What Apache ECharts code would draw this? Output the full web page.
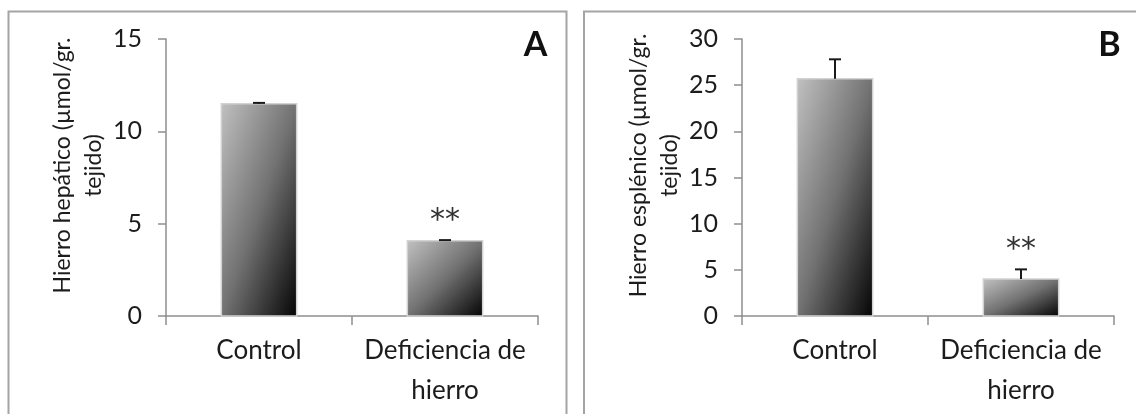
<!DOCTYPE html>
<html>
<head>
<meta charset="utf-8">
<script src="https://cdn.jsdelivr.net/npm/echarts@6/dist/echarts.min.js"></script>
<style>
  html, body { margin: 0; padding: 0; background: #ffffff; }
  #chart { width: 1136px; height: 414px; }
</style>
</head>
<body>
<div id="chart"></div>
<script>
// Iron content by group: liver (A) and spleen (B), mean ± error
const categories = ['Control', 'Deficiencia de\nhierro'];
const hepaticMeans = [11.5, 4.07];
const hepaticErrors = [0.04, 0.04];
const splenicMeans = [25.7, 4.0];
const splenicErrors = [2.1, 1.05];
const significance = ['', '**'];
const hepaticAxis = { min: 0, max: 15, interval: 5 };
const splenicAxis = { min: 0, max: 30, interval: 5 };
const hepaticTitle = 'Hierro hepático (µmol/gr.\ntejido)';
const splenicTitle = 'Hierro esplénico (µmol/gr.\ntejido)';
const panelLetters = ['A', 'B'];

const FONT = 'Lato, "Open Sans", sans-serif';
const TEXT = '#1c1c1c';
const AXIS = '#8e8e8e';
const BAR_WIDTH_RATIO = 0.405;

// Bar drawn with a corner-to-corner shade: light at top-left, black at bottom-right,
// mid-tone along the other diagonal (bounding-box style gradient).
function renderBar(params, api) {
  const cat = api.value(0);
  const val = api.value(1);
  const top = api.coord([cat, val]);
  const base = api.coord([cat, 0]);
  const band = api.size([1, 0])[0];
  const w = band * BAR_WIDTH_RATIO;
  const h = base[1] - top[1];
  const x = top[0] - w / 2;
  const y = top[1];
  const d = w * w + h * h;
  const x2 = x + (2 * w * h * h) / d;
  const y2 = y + (2 * w * w * h) / d;
  return {
    type: 'rect',
    shape: { x: x, y: y, width: w, height: h },
    style: {
      fill: new echarts.graphic.LinearGradient(x, y, x2, y2, [
        { offset: 0, color: '#c0c0c0' },
        { offset: 0.5, color: '#727272' },
        { offset: 1, color: '#050505' }
      ], true),
      stroke: '#d2d2d2',
      lineWidth: 1.5
    }
  };
}

// Upper error whisker with cap, plus significance mark above it
function renderError(params, api) {
  const cat = api.value(0);
  const mean = api.value(1);
  const err = api.value(2);
  const sig = significance[params.dataIndex];
  const p0 = api.coord([cat, mean]);
  const p1 = api.coord([cat, mean + err]);
  const cap = 6;
  const children = [
    { type: 'line', shape: { x1: p0[0], y1: p0[1], x2: p1[0], y2: p1[1] },
      style: { stroke: '#1a1a1a', lineWidth: 2 } },
    { type: 'line', shape: { x1: p1[0] - cap, y1: p1[1], x2: p1[0] + cap, y2: p1[1] },
      style: { stroke: '#1a1a1a', lineWidth: 2 } }
  ];
  if (sig) {
    children.push({
      type: 'text',
      style: {
        text: sig, x: p1[0], y: p1[1] - 4,
        align: 'center', verticalAlign: 'bottom',
        font: '30px "DejaVu Sans", sans-serif', fill: '#333333'
      }
    });
  }
  return { type: 'group', children: children };
}

function barData(means) {
  return means.map(function (v, i) { return [i, v]; });
}
function errData(means, errs) {
  return means.map(function (v, i) { return [i, v, errs[i]]; });
}

function xAxisFor(gridIndex) {
  return {
    type: 'category', gridIndex: gridIndex, data: categories,
    axisLine: { lineStyle: { color: AXIS, width: 1.5 } },
    axisTick: { show: true, length: 9, lineStyle: { color: AXIS, width: 1.5 } },
    axisLabel: {
      color: TEXT, fontFamily: FONT, fontSize: 26, lineHeight: 40,
      margin: 15, interval: 0
    }
  };
}
function yAxisFor(gridIndex, range, title) {
  return {
    type: 'value', gridIndex: gridIndex,
    min: range.min, max: range.max, interval: range.interval,
    splitLine: { show: false },
    axisLine: { show: true, lineStyle: { color: AXIS, width: 1.5 } },
    axisTick: { show: true, length: 8, lineStyle: { color: AXIS, width: 1.5 } },
    axisLabel: { color: TEXT, fontFamily: FONT, fontSize: 25, margin: 24 },
    name: title, nameLocation: 'middle', nameRotate: 90, nameGap: 57,
    nameTextStyle: {
      color: TEXT, fontFamily: FONT, fontSize: 23, lineHeight: 31,
      align: 'center', padding: [0, 0, 0, 24]
    }
  };
}

const chart = echarts.init(document.getElementById('chart'), null, { renderer: 'canvas' });

chart.setOption({
  backgroundColor: '#ffffff',
  animation: false,
  grid: [
    { left: 166, top: 39, width: 372, height: 277 },
    { left: 742, top: 39, width: 372, height: 277 }
  ],
  xAxis: [xAxisFor(0), xAxisFor(1)],
  yAxis: [yAxisFor(0, hepaticAxis, hepaticTitle), yAxisFor(1, splenicAxis, splenicTitle)],
  series: [
    { type: 'custom', xAxisIndex: 0, yAxisIndex: 0, renderItem: renderBar,
      data: barData(hepaticMeans), encode: { x: 0, y: 1 } },
    { type: 'custom', xAxisIndex: 0, yAxisIndex: 0, renderItem: renderError,
      data: errData(hepaticMeans, hepaticErrors), encode: { x: 0, y: [1, 2] }, z: 3 },
    { type: 'custom', xAxisIndex: 1, yAxisIndex: 1, renderItem: renderBar,
      data: barData(splenicMeans), encode: { x: 0, y: 1 } },
    { type: 'custom', xAxisIndex: 1, yAxisIndex: 1, renderItem: renderError,
      data: errData(splenicMeans, splenicErrors), encode: { x: 0, y: [1, 2] }, z: 3 }
  ],
  graphic: [
    // panel frames
    { type: 'rect', shape: { x: 8.5, y: 11.5, width: 558, height: 430 },
      style: { fill: 'none', stroke: '#a4a4a4', lineWidth: 2 }, silent: true },
    { type: 'rect', shape: { x: 584, y: 11.5, width: 580, height: 430 },
      style: { fill: 'none', stroke: '#a4a4a4', lineWidth: 2 }, silent: true },
    // panel letters
    { type: 'text', x: 535.5, y: 45,
      style: { text: panelLetters[0], font: 'bold 34px ' + FONT, fill: '#111111',
        align: 'center', verticalAlign: 'middle' } },
    { type: 'text', x: 1109.5, y: 45,
      style: { text: panelLetters[1], font: 'bold 34px ' + FONT, fill: '#111111',
        align: 'center', verticalAlign: 'middle' } }
  ]
});
</script>
</body>
</html>
